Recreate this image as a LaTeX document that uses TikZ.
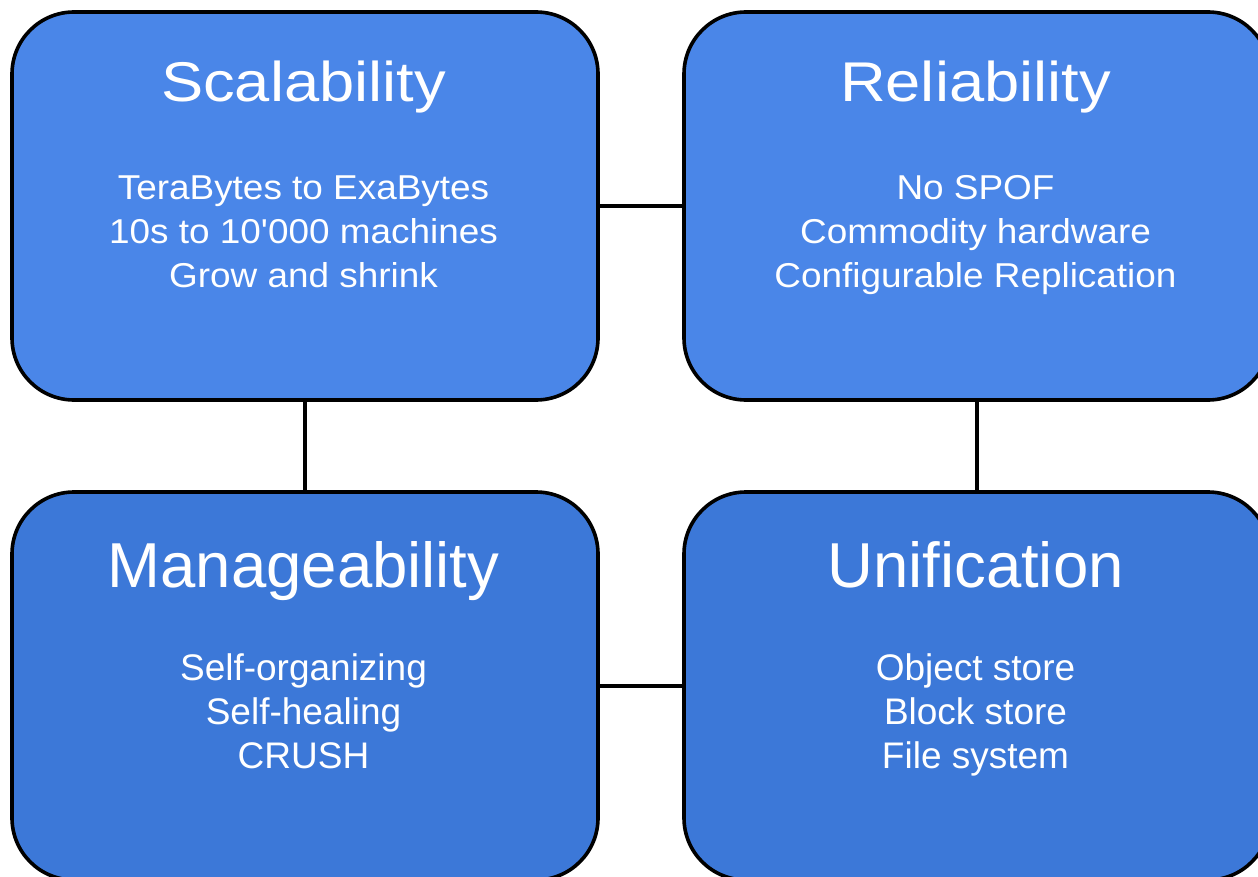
\documentclass[tikz,border=0pt]{standalone}
\usepackage{fontspec}
\setmainfont{Liberation Sans}
\newfontfamily\squat[FakeStretch=1.13]{Liberation Sans}
\newfontfamily\squatbody[FakeStretch=1.07]{Liberation Sans}
\definecolor{topblue}{HTML}{4A86E8}
\definecolor{botblue}{HTML}{3C78D8}
\begin{document}
\begin{tikzpicture}[x=1pt,y=-1pt,
  box/.style={draw=black, line width=3.6pt, rounded corners=62pt,
    minimum width=586pt, minimum height=388pt, inner sep=0pt},
  toptitle/.style={text=white, font=\squat\fontsize{56}{60}\selectfont, anchor=base, inner sep=0pt},
  topline/.style={text=white, font=\squatbody\fontsize{34.5}{40}\selectfont, anchor=base, inner sep=0pt},
  bottitle/.style={text=white, font=\fontsize{63.5}{70}\selectfont, anchor=base, inner sep=0pt},
  botline/.style={text=white, font=\fontsize{37}{44}\selectfont, anchor=base, inner sep=0pt},
  link/.style={draw=black, line width=3.4pt}]
\useasboundingbox (0,0) rectangle (1258,877);
\begin{scope}
\clip (0,0) rectangle (1258,877);
% boxes
\node[box, fill=topblue] (scal) at (305,206) {};
\node[box, fill=topblue] (reli) at (977,206) {};
\node[box, fill=botblue] (mana) at (305,686) {};
\node[box, fill=botblue] (unif) at (977,686) {};
\end{scope}
% connectors
\draw[link] (scal.east) -- (reli.west);
\draw[link] (scal.south) -- (mana.north);
\draw[link] (reli.south) -- (unif.north);
\draw[link] (mana.east) -- (unif.west);
% Scalability
\node[toptitle] (scalt) at (303.5,101.5) {Scalability};
\node[topline] (scal1) at (303.5,200) {TeraBytes to ExaBytes};
\node[topline] (scal2) at (303.5,244) {10s to 10'000 machines};
\node[topline] (scal3) at (303.5,288) {Grow and shrink};
% Reliability
\node[toptitle] (relit) at (975.5,101.5) {Reliability};
\node[topline] (reli1) at (975.5,200) {No SPOF};
\node[topline] (reli2) at (975.5,244) {Commodity hardware};
\node[topline] (reli3) at (975.5,288) {Configurable Replication};
% Manageability
\node[bottitle] (manat) at (303.5,587) {Manageability};
\node[botline] (mana1) at (303.5,680) {Self-organizing};
\node[botline] (mana2) at (303.5,724) {Self-healing};
\node[botline] (mana3) at (303.5,768) {CRUSH};
% Unification
\node[bottitle] (unift) at (975.5,587) {Unification};
\node[botline] (unif1) at (975.5,680) {Object store};
\node[botline] (unif2) at (975.5,724) {Block store};
\node[botline] (unif3) at (975.5,768) {File system};
\end{tikzpicture}
\end{document}
